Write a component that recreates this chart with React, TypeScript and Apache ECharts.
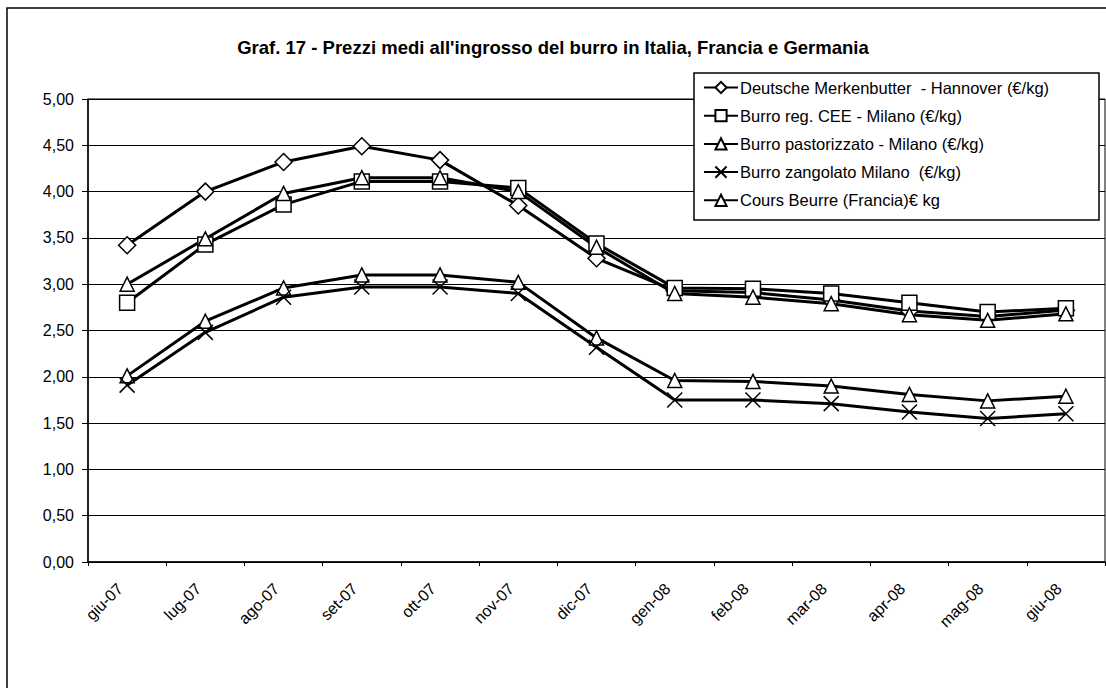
import React, { useEffect, useRef } from "react";
import * as echarts from "echarts";

const categories = ["giu-07", "lug-07", "ago-07", "set-07", "ott-07", "nov-07", "dic-07", "gen-08", "feb-08", "mar-08", "apr-08", "mag-08", "giu-08"];
const deutsche = [3.42, 4.0, 4.32, 4.49, 4.34, 3.85, 3.28, 2.93, 2.91, 2.83, 2.71, 2.65, 2.72];
const burroRegCEE = [2.8, 3.43, 3.86, 4.11, 4.11, 4.04, 3.44, 2.96, 2.95, 2.9, 2.8, 2.7, 2.74];
const burroPastorizzato = [2.01, 2.6, 2.96, 3.1, 3.1, 3.02, 2.42, 1.96, 1.95, 1.9, 1.81, 1.74, 1.79];
const burroZangolato = [1.91, 2.48, 2.86, 2.97, 2.97, 2.9, 2.32, 1.75, 1.75, 1.71, 1.62, 1.55, 1.6];
const coursBeurre = [3.0, 3.49, 3.98, 4.15, 4.15, 4.0, 3.4, 2.9, 2.86, 2.79, 2.67, 2.61, 2.68];
const seriesNames = [
  "Deutsche Merkenbutter  - Hannover (€/kg)",
  "Burro reg. CEE - Milano (€/kg)",
  "Burro pastorizzato - Milano (€/kg)",
  "Burro zangolato Milano  (€/kg)",
  "Cours Beurre (Francia)€ kg",
];
const titleText = "Graf. 17 - Prezzi medi all'ingrosso del burro in Italia, Francia e Germania";

const FONT = "'Liberation Sans', Arial, sans-serif";
const CROSS = "path://M0,0L10,10M10,0L0,10";

export default function App() {
  const ref = useRef<HTMLDivElement>(null);
  useEffect(() => {
    if (!ref.current) return;
    const chart = echarts.init(ref.current, null, { renderer: "svg" });
    const mk = (name: string, data: number[], symbol: string, size: number) => ({
      name,
      type: "line",
      data,
      symbol,
      symbolSize: size,
      showAllSymbol: true,
      lineStyle: { color: "#000", width: 3 },
      itemStyle: { color: "#fff", borderColor: "#000", borderWidth: 1.5 },
      emphasis: { disabled: true },
      z: 2,
    });
    chart.setOption({
      animation: false,
      backgroundColor: "#fff",
      textStyle: { fontFamily: FONT, color: "#000" },
      title: {
        text: titleText,
        left: "center",
        top: 33,
        textStyle: { fontFamily: FONT, fontSize: 18.5, fontWeight: "bold", color: "#000" },
      },
      graphic: [
        {
          type: "rect",
          shape: { x: 7, y: 8, width: 1200, height: 800 },
          style: { fill: "none", stroke: "#000", lineWidth: 1.5 },
          silent: true,
          z: 1,
        },
        {
          type: "rect",
          shape: { x: 694, y: 73, width: 405, height: 147 },
          style: { fill: "#fff", stroke: "#000", lineWidth: 1.5 },
          silent: true,
          z: 3,
        },
      ],
      legend: {
        orient: "vertical",
        left: 697,
        top: 73,
        itemGap: 11.2,
        itemWidth: 34,
        itemHeight: 14,
        padding: [6, 8, 6, 6],
        borderWidth: 0,
        z: 4,
        textStyle: { fontFamily: FONT, fontSize: 16.5, color: "#000", padding: [0, 0, 0, -3] },
        data: seriesNames,
      },
      grid: { left: 88, right: 1, top: 99, bottom: 126, show: true, borderColor: "#000", borderWidth: 1 },
      xAxis: {
        type: "category",
        data: categories,
        boundaryGap: true,
        axisLine: { lineStyle: { color: "#000", width: 1.5 } },
        axisTick: { show: true, length: 4, lineStyle: { color: "#000" } },
        axisLabel: { rotate: 45, fontSize: 16, color: "#000", fontFamily: FONT, margin: 17, padding: [0, 10, 0, 0] },
      },
      yAxis: {
        type: "value",
        min: 0,
        max: 5,
        interval: 0.5,
        axisLine: { show: true, lineStyle: { color: "#000", width: 1.5 } },
        axisTick: { show: true, length: 6, lineStyle: { color: "#000" } },
        axisLabel: {
          fontSize: 16,
          color: "#000",
          fontFamily: FONT,
          margin: 14,
          formatter: (v: number) => v.toFixed(2).replace(".", ","),
        },
        splitLine: { show: true, lineStyle: { color: "#000", width: 1 } },
      },
      series: [
        mk(seriesNames[0], deutsche, "diamond", 17),
        mk(seriesNames[1], burroRegCEE, "rect", 15),
        mk(seriesNames[2], burroPastorizzato, "triangle", 14),
        mk(seriesNames[3], burroZangolato, CROSS, 15),
        mk(seriesNames[4], coursBeurre, "triangle", 14),
      ],
    });
    return () => chart.dispose();
  }, []);
  return <div ref={ref} style={{ position: "fixed", left: 0, top: 0, width: 1106, height: 688 }} />;
}
